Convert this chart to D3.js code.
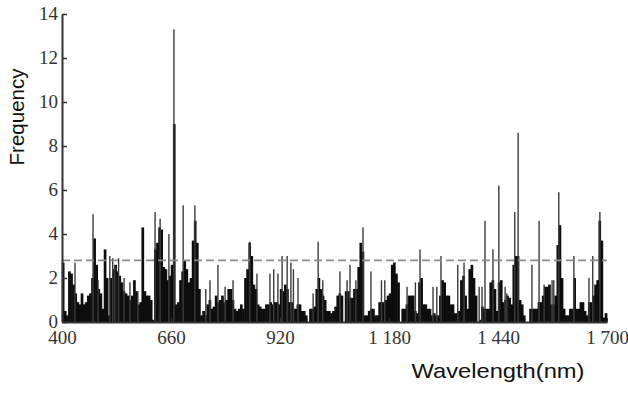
<!DOCTYPE html>
<html>
<head>
<meta charset="utf-8">
<script src="https://d3js.org/d3.v7.min.js"></script>
<style>
body { margin: 0; background: #fff; }
svg { display: block; }
.axis text { font-family: 'Liberation Serif', 'Times New Roman', serif; font-size: 19px; fill: #333; }
.axis path, .axis line { stroke: #333; }
.title { font-family: 'Liberation Sans', Arial, sans-serif; fill: #111; }
</style>
</head>
<body>
<svg width="628" height="393"></svg>
<script>
// 5 nm bins from 400 nm
const wlStart = 400
const wlStep = 5
const freq = [
	2.7, 0.5, 0.3, 2.3, 2.2, 1.7, 1.3, 0.9, 0.8, 1.3,
	0.8, 0.9, 1.2, 1.3, 2.0, 3.8, 2.6, 1.5, 1.3, 0.6,
	3.3, 2.0, 0.3, 2.0, 2.4, 2.6, 2.3, 2.1, 1.8, 1.4,
	1.3, 1.2, 1.0, 1.2, 1.9, 1.4, 0.8, 0.9, 4.3, 1.4,
	1.2, 1.2, 1.0, 0.1, 3.3, 3.6, 4.3, 4.2, 2.5, 2.4,
	1.9, 2.1, 2.6, 9.0, 0.8, 0.9, 1.9, 2.3, 2.8, 2.4,
	1.8, 2.0, 3.7, 4.6, 3.6, 1.5, 0.3, 0.5, 0.3, 0.8,
	1.0, 0.6, 0.7, 1.2, 0.9, 1.0, 1.2, 0.9, 1.0, 1.5,
	1.5, 1.0, 0.6, 0.5, 0.6, 0.8, 0.6, 2.0, 2.4, 3.6,
	3.0, 1.7, 1.5, 0.8, 0.7, 0.6, 0.6, 0.8, 0.8, 0.9,
	0.8, 0.9, 0.9, 0.8, 1.5, 1.4, 1.7, 1.5, 0.9, 0.9,
	0.6, 0.6, 0.8, 0.8, 0.5, 0.5, 0.3, 0.0, 0.6, 0.6,
	0.7, 1.5, 2.0, 1.5, 1.2, 1.0, 0.5, 0.5, 0.4, 0.5,
	0.7, 1.2, 1.3, 1.2, 0.0, 1.4, 1.4, 1.1, 1.1, 1.5,
	1.5, 2.5, 3.6, 3.2, 0.3, 0.3, 0.5, 0.6, 0.6, 0.3,
	0.3, 0.9, 0.9, 0.9, 1.0, 1.2, 1.3, 2.6, 2.7, 2.2,
	1.8, 0.0, 0.6, 0.6, 0.8, 1.2, 1.2, 1.2, 0.5, 0.4,
	1.8, 2.0, 0.8, 0.8, 0.6, 0.6, 0.3, 0.4, 0.3, 0.3,
	1.2, 1.9, 1.8, 1.2, 1.2, 0.8, 0.8, 0.4, 0.4, 0.5,
	1.9, 2.1, 1.2, 0.6, 2.4, 2.6, 2.0, 1.2, 0.0, 0.1,
	0.7, 0.6, 0.6, 0.6, 1.8, 1.9, 1.5, 0.5, 1.8, 1.9,
	0.9, 1.0, 1.2, 1.1, 0.8, 2.6, 3.0, 3.0, 1.0, 0.8,
	0.3, 0.0, 0.0, 0.6, 0.6, 0.6, 0.6, 0.9, 0.9, 1.2,
	1.6, 1.6, 1.7, 0.8, 0.8, 1.2, 3.5, 4.4, 2.0, 0.6,
	0.3, 0.3, 0.6, 0.6, 2.0, 0.6, 0.6, 0.9, 0.9, 0.5,
	0.3, 0.9, 0.9, 1.2, 1.7, 1.9, 4.6, 3.7, 0.2, 0.4
]
// thin single-wavelength peaks
const spikeWl = [431, 474, 486, 514, 521, 526, 535, 548, 562, 581,
	622, 634, 655, 667, 689, 717, 743, 753, 772, 789,
	808, 848, 865, 896, 905, 915, 925, 937, 946, 952,
	963, 999, 1011, 1022, 1063, 1080, 1087, 1101, 1118, 1137,
	1162, 1170, 1223, 1243, 1254, 1285, 1294, 1304, 1344, 1359,
	1395, 1402, 1409, 1428, 1442, 1457, 1461, 1480, 1488, 1521,
	1538, 1550, 1569, 1573, 1585, 1621, 1657, 1666, 1683]
const spikeFreq = [2.7, 4.9, 1.9, 3.0, 2.9, 2.5, 2.9, 2.0, 1.8, 1.4,
	5.0, 4.7, 4.0, 13.3, 5.3, 5.3, 1.5, 1.9, 2.6, 1.6,
	1.9, 3.65, 2.2, 2.2, 2.4, 2.2, 3.0, 3.0, 2.7, 2.4,
	2.0, 1.3, 3.65, 1.9, 2.3, 1.9, 2.6, 1.9, 4.3, 2.3,
	1.9, 1.9, 1.6, 1.8, 3.3, 1.6, 1.6, 3.0, 2.6, 2.7,
	1.6, 1.6, 4.6, 3.3, 6.2, 1.6, 1.3, 5.0, 8.6, 2.6,
	4.6, 1.7, 1.9, 1.9, 5.9, 3.0, 2.0, 3.0, 5.0]
const threshold = 2.8
const xTicks = [400, 660, 920, 1180, 1440, 1700]
const yTicks = [0, 2, 4, 6, 8, 10, 12, 14]

const svg = d3.select('svg')
const x = d3.scaleLinear().domain([400, 1700]).range([62, 607])
const y = d3.scaleLinear().domain([0, 14]).range([322, 14])

const fmt = d3.formatLocale({ decimal: '.', thousands: ' ', grouping: [3], currency: ['', ''] }).format(',')

// bins
svg.append('g').selectAll('rect')
	.data(freq)
	.join('rect')
	.attr('x', (d, i) => x(wlStart + i * wlStep) - 0.2)
	.attr('width', (d, i) => x(wlStart + (i + 1) * wlStep) - x(wlStart + i * wlStep) + 0.6)
	.attr('y', d => y(d))
	.attr('height', d => y(0) - y(d))
	.attr('fill', '#0d0d0d')

// spikes
svg.append('g').selectAll('rect')
	.data(spikeWl.map((w, i) => ({ w, f: spikeFreq[i] })))
	.join('rect')
	.attr('x', d => x(d.w) - 0.7)
	.attr('width', 1.4)
	.attr('y', d => y(d.f))
	.attr('height', d => y(0) - y(d.f))
	.attr('fill', '#3c3c3c')

// threshold line
svg.append('line')
	.attr('x1', x(400)).attr('x2', x(1700))
	.attr('y1', y(threshold)).attr('y2', y(threshold))
	.attr('stroke', '#8a8a8a')
	.attr('stroke-width', 1.6)
	.attr('stroke-dasharray', '8,4')

svg.append('g')
	.attr('class', 'axis')
	.attr('transform', `translate(${[0, y(0)]})`)
	.call(d3.axisBottom(x).tickValues(xTicks).tickFormat(fmt).tickSizeInner(-4).tickSizeOuter(0).tickPadding(9))
	.call(g => g.select('.domain').attr('stroke-width', 2))

svg.append('g')
	.attr('class', 'axis')
	.attr('transform', `translate(${[x(400), 0]})`)
	.call(d3.axisLeft(y).tickValues(yTicks).tickSizeInner(-5).tickSizeOuter(0).tickPadding(4))
	.call(g => g.select('.domain').attr('stroke-width', 2))
	.call(g => g.selectAll('.tick line').attr('stroke-width', 1.5))
	.call(g => g.selectAll('.tick text').attr('dy', '0.28em'))

svg.append('text')
	.attr('class', 'title')
	.attr('transform', `translate(${[24, 117]}) rotate(-90)`)
	.attr('text-anchor', 'middle')
	.attr('font-size', 20)
	.attr('textLength', 97)
	.attr('lengthAdjust', 'spacingAndGlyphs')
	.text('Frequency')

svg.append('text')
	.attr('class', 'title')
	.attr('x', 498)
	.attr('y', 378)
	.attr('text-anchor', 'middle')
	.attr('font-size', 21)
	.attr('textLength', 173)
	.attr('lengthAdjust', 'spacingAndGlyphs')
	.text('Wavelength(nm)')
</script>
</body>
</html>
